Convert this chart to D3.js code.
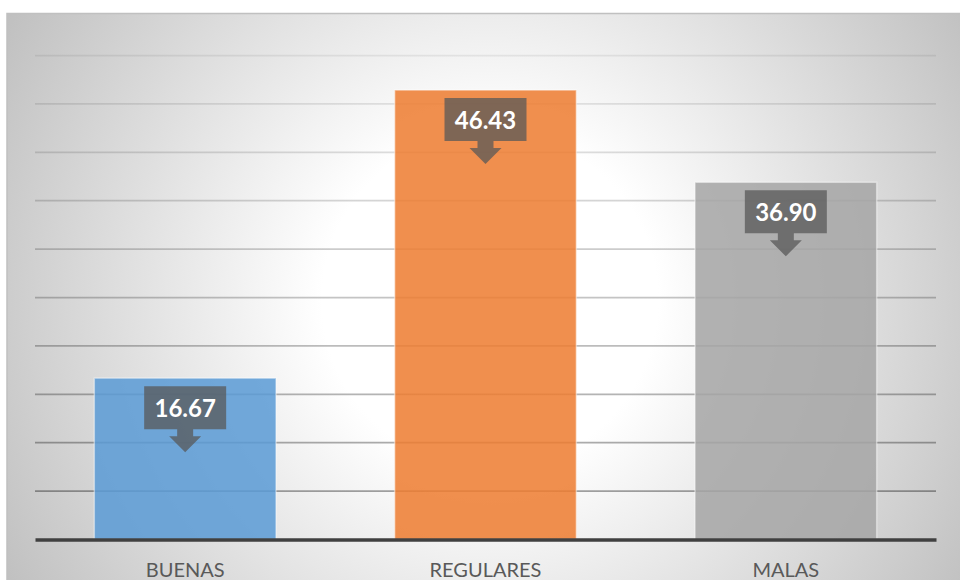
<!DOCTYPE html>
<html>
<head>
<meta charset="utf-8">
<script src="https://cdn.jsdelivr.net/npm/d3@7"></script>
<style>
  html, body { margin: 0; padding: 0; background: #ffffff; }
  svg { display: block; }
</style>
</head>
<body>
<script>
// Data
const categories = ["BUENAS", "REGULARES", "MALAS"];
const values = [16.67, 46.43, 36.90];
const yTicks = [5, 10, 15, 20, 25, 30, 35, 40, 45, 50];

// Styling
const palette = ["#5b9bd5", "#ed7d31", "#a5a5a5"];
const W = 960, H = 580;
const plot = { left: 35, right: 936, top: 55.5, bottom: 539.5 };

const svg = d3.select("body").append("svg")
  .attr("width", W).attr("height", H);

const defs = svg.append("defs");

// Radial fill of the chart area: white centre fading to grey edges
const grad = defs.append("radialGradient")
  .attr("id", "bg")
  .attr("gradientUnits", "userSpaceOnUse")
  .attr("cx", 490).attr("cy", 300).attr("r", 560);
grad.append("stop").attr("offset", "0%").attr("stop-color", "#ffffff");
grad.append("stop").attr("offset", "30%").attr("stop-color", "#ffffff");
grad.append("stop").attr("offset", "100%").attr("stop-color", "#c0c0c0");

// Gridlines darken towards the bottom of the plot
const gridGrad = defs.append("linearGradient")
  .attr("id", "grid")
  .attr("gradientUnits", "userSpaceOnUse")
  .attr("x1", 0).attr("y1", plot.top)
  .attr("x2", 0).attr("y2", 490);
gridGrad.append("stop").attr("offset", "0%")
  .attr("stop-color", "#000000").attr("stop-opacity", 0.07);
gridGrad.append("stop").attr("offset", "100%")
  .attr("stop-color", "#000000").attr("stop-opacity", 0.36);

// Chart area
svg.append("rect")
  .attr("x", 7).attr("y", 13.5)
  .attr("width", 960).attr("height", 600)
  .attr("fill", "url(#bg)")
  .attr("stroke", "#c0c0c0")
  .attr("stroke-width", 1.5);

const x = d3.scaleBand()
  .domain(categories)
  .range([plot.left, plot.right])
  .paddingInner(0.395)
  .paddingOuter(0.1975);

const y = d3.scaleLinear()
  .domain([0, 50])
  .range([plot.bottom, plot.top]);

// Gridlines (drawn as paths so the vertical gradient applies to each)
svg.append("g").selectAll("path")
  .data(yTicks)
  .join("path")
  .attr("d", d => `M${plot.left},${y(d)}H${plot.right}`)
  .attr("fill", "none")
  .attr("stroke", "url(#grid)")
  .attr("stroke-width", 1.75);

// Bars
svg.append("g").selectAll("rect")
  .data(values)
  .join("rect")
  .attr("x", (d, i) => x(categories[i]))
  .attr("y", d => y(d))
  .attr("width", x.bandwidth())
  .attr("height", d => y(0) - y(d))
  .attr("fill", (d, i) => palette[i])
  .attr("fill-opacity", 0.86)
  .attr("stroke", "#ffffff")
  .attr("stroke-opacity", 0.45)
  .attr("stroke-width", 1.5);

// Category axis
const xAxis = d3.axisBottom(x).tickSize(0).tickPadding(23.5);
const gx = svg.append("g")
  .attr("transform", `translate(0,${plot.bottom})`)
  .call(xAxis);
gx.select(".domain")
  .attr("stroke", "#404040")
  .attr("stroke-width", 3.5);
gx.selectAll(".tick text")
  .attr("fill", "#595959")
  .attr("font-family", "Lato, 'Open Sans', sans-serif")
  .attr("font-size", "20px");

// Value callouts: box with a down-pointing arrow
const boxW = 82, boxH = 43, gap = 8;
const shaftW = 16, shaftH = 7, headW = 32, headH = 16;
const callouts = svg.append("g").selectAll("g")
  .data(values)
  .join("g")
  .attr("transform", (d, i) =>
    `translate(${x(categories[i]) + x.bandwidth() / 2},${y(d) + gap})`);

callouts.append("path")
  .attr("d", () => {
    const p = d3.path();
    p.moveTo(-boxW / 2, 0);
    p.lineTo(boxW / 2, 0);
    p.lineTo(boxW / 2, boxH);
    p.lineTo(shaftW / 2, boxH);
    p.lineTo(shaftW / 2, boxH + shaftH);
    p.lineTo(headW / 2, boxH + shaftH);
    p.lineTo(0, boxH + shaftH + headH);
    p.lineTo(-headW / 2, boxH + shaftH);
    p.lineTo(-shaftW / 2, boxH + shaftH);
    p.lineTo(-shaftW / 2, boxH);
    p.lineTo(-boxW / 2, boxH);
    p.closePath();
    return p.toString();
  })
  .attr("fill", "#585858")
  .attr("fill-opacity", 0.75);

callouts.append("text")
  .attr("x", 0)
  .attr("y", 30.5)
  .attr("text-anchor", "middle")
  .attr("fill", "#ffffff")
  .attr("font-family", "Lato, 'Open Sans', sans-serif")
  .attr("font-weight", "bold")
  .attr("font-size", "24px")
  .text(d => d.toFixed(2));
</script>
</body>
</html>
